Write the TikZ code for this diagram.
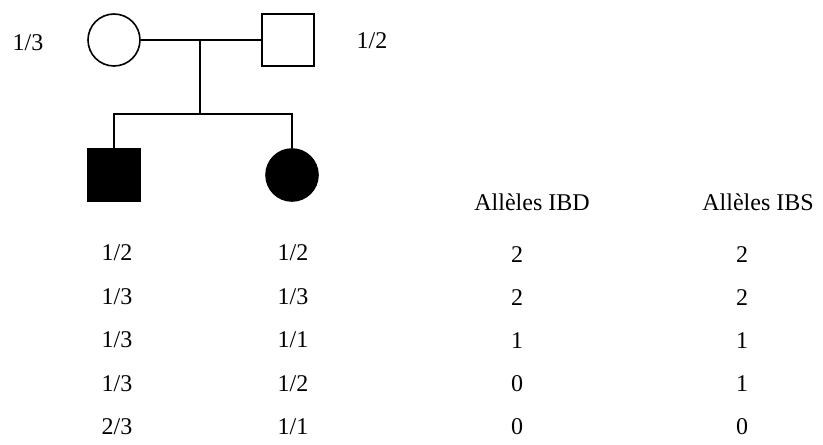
\documentclass[tikz,border=0pt]{standalone}
\usepackage{fontspec}
\setmainfont{Liberation Serif}
\tikzset{
  person/.style={draw, line width=1.2pt, minimum size=39pt, inner sep=0pt},
  female/.style={person, circle},
  male/.style={person, rectangle},
  affected/.style={fill=black},
  lbl/.style={font=\fontsize{18}{21}\selectfont, inner sep=1pt}
}
\begin{document}
\begin{tikzpicture}[x=0.75pt, y=-0.75pt, line width=1.2pt]
\useasboundingbox (0,0) rectangle (823,445);
% parents
\node[female] (mere) at (114,40) {};
\node[male] (pere) at (288,40) {};
\node[lbl] (gmere) at (28,43) {1/3};
\node[lbl] (gpere) at (372,41) {1/2};
\draw (mere) -- (pere);
\coordinate (union) at (200,40);
\coordinate (fratrie) at (200,114);
\draw (union) -- (fratrie);
% children
\node[male, affected] (fils) at (114,175) {};
\node[female, affected] (fille) at (292,175) {};
\draw (fils.north) |- (fratrie) -| (fille.north);
% table
\node[lbl] (ibd) at (532,202) {Allèles IBD};
\node[lbl] (ibs) at (758,202) {Allèles IBS};
\foreach \gs/\gf/\nibd/\nibs [count=\i] in {{1/2}/{1/2}/2/2, {1/3}/{1/3}/2/2, {1/3}/{1/1}/1/1, {1/3}/{1/2}/0/1, {2/3}/{1/1}/0/0}
{
    \node[lbl] (fils\i) at (117, {253+(\i-1)*43.5}) {\gs};
    \node[lbl] (fille\i) at (293, {253+(\i-1)*43.5}) {\gf};
    \node[lbl] (ibd\i) at (517, {255+(\i-1)*43}) {\nibd};
    \node[lbl] (ibs\i) at (742, {255+(\i-1)*43}) {\nibs};
}
\end{tikzpicture}
\end{document}
